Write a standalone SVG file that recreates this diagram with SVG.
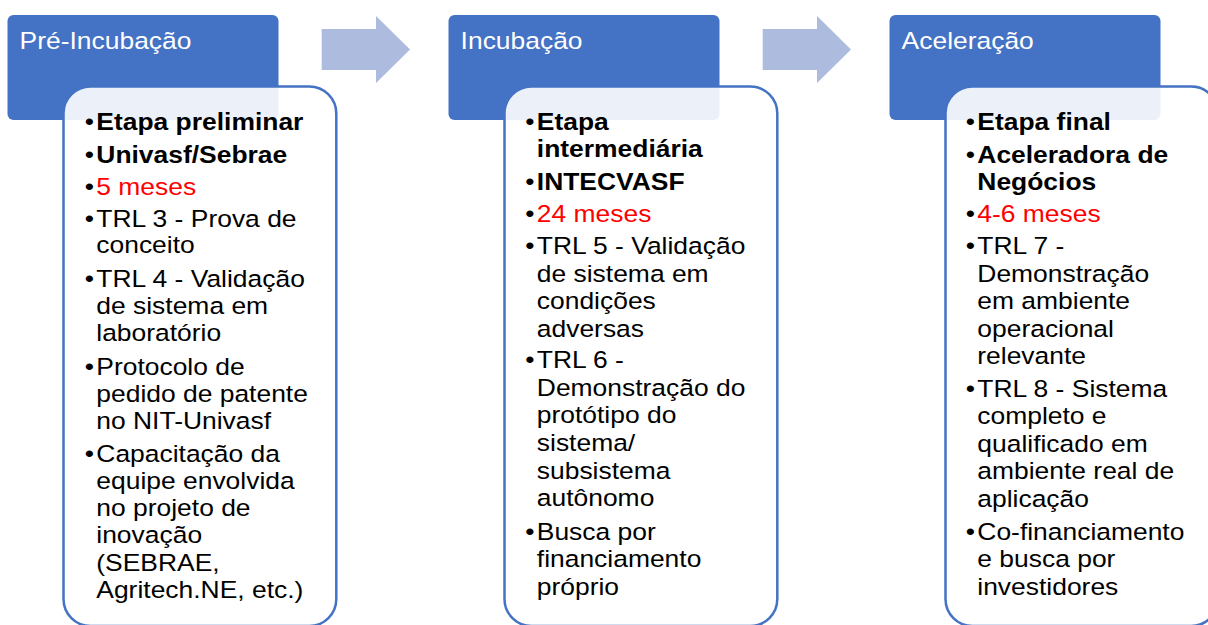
<svg xmlns="http://www.w3.org/2000/svg" width="1208" height="625" viewBox="0 0 1208 625">
<style>
  .hdr { fill: #4472C4; }
  .hdrtxt { font-family: "Liberation Sans", Arial, sans-serif; font-size: 23.5px; fill: #FFFFFF; }
  .body { fill: #FFFFFF; fill-opacity: 0.9; stroke: #4472C4; stroke-width: 2.5; }
  .t { font-family: "Liberation Sans", Arial, sans-serif; font-size: 23.5px; fill: #000000; }
  .b { font-weight: bold; }
  .r { fill: #FF0000; }
  .bu { font-family: "Liberation Sans", Arial, sans-serif; font-size: 23.5px; fill: #000000; }
  .arrow { fill: #ADBBDF; }
</style>
<rect width="1208" height="625" fill="#FFFFFF"/>

<g id="connectors">
  <path class="arrow" d="M321.7,29 H376 V16 L410,49.5 L376,83 V70 H321.7 Z"/>
  <path class="arrow" d="M762.7,29 H817 V16 L851,49.5 L817,83 V70 H762.7 Z"/>
</g>

<g id="node-pre-incubacao">
  <rect class="hdr" x="7.5" y="15" width="271" height="105" rx="6"/>
  <g transform="matrix(1.125 0 0 1 19.6 0)"><text class="hdrtxt" x="0" y="49.5">Pré-Incubação</text></g>
  <rect class="body" x="63.5" y="86.5" width="272.8" height="539.5" rx="27"/>
  <g transform="matrix(1.125 0 0 1 96.3 0)">
    <text class="bu" x="-10.3" y="130">•</text><text class="t b" x="0" y="130">Etapa preliminar</text>
    <text class="bu" x="-10.3" y="163">•</text><text class="t b" x="0" y="163">Univasf/Sebrae</text>
    <text class="bu r" x="-10.3" y="195.5">•</text><text class="t r" x="0" y="195.5">5 meses</text>
    <text class="bu" x="-10.3" y="227">•</text><text class="t" x="0" y="227">TRL 3 - Prova de</text>
    <text class="t" x="0" y="253.5">conceito</text>
    <text class="bu" x="-10.3" y="287.5">•</text><text class="t" x="0" y="287.5">TRL 4 - Validação</text>
    <text class="t" x="0" y="314.5">de sistema em</text>
    <text class="t" x="0" y="341.5">laboratório</text>
    <text class="bu" x="-10.3" y="375">•</text><text class="t" x="0" y="375">Protocolo de</text>
    <text class="t" x="0" y="402">pedido de patente</text>
    <text class="t" x="0" y="429">no NIT-Univasf</text>
    <text class="bu" x="-10.3" y="462.5">•</text><text class="t" x="0" y="462.5">Capacitação da</text>
    <text class="t" x="0" y="489.5">equipe envolvida</text>
    <text class="t" x="0" y="516.5">no projeto de</text>
    <text class="t" x="0" y="543.5">inovação</text>
    <text class="t" x="0" y="571">(SEBRAE,</text>
    <text class="t" x="0" y="598">Agritech.NE, etc.)</text>
  </g>
</g>

<g id="node-incubacao">
  <rect class="hdr" x="448.5" y="15" width="271" height="105" rx="6"/>
  <g transform="matrix(1.125 0 0 1 460.6 0)"><text class="hdrtxt" x="0" y="49.5">Incubação</text></g>
  <rect class="body" x="504.5" y="86.5" width="272.8" height="539.5" rx="27"/>
  <g transform="matrix(1.125 0 0 1 536.8 0)">
    <text class="bu" x="-10.3" y="130">•</text><text class="t b" x="0" y="130">Etapa</text>
    <text class="t b" x="0" y="157">intermediária</text>
    <text class="bu" x="-10.3" y="190">•</text><text class="t b" x="0" y="190">INTECVASF</text>
    <text class="bu r" x="-10.3" y="222">•</text><text class="t r" x="0" y="222">24 meses</text>
    <text class="bu" x="-10.3" y="254.5">•</text><text class="t" x="0" y="254.5">TRL 5 - Validação</text>
    <text class="t" x="0" y="282">de sistema em</text>
    <text class="t" x="0" y="309.5">condições</text>
    <text class="t" x="0" y="337">adversas</text>
    <text class="bu" x="-10.3" y="368.5">•</text><text class="t" x="0" y="368.5">TRL 6 -</text>
    <text class="t" x="0" y="396.5">Demonstração do</text>
    <text class="t" x="0" y="423.5">protótipo do</text>
    <text class="t" x="0" y="451.5">sistema/</text>
    <text class="t" x="0" y="479">subsistema</text>
    <text class="t" x="0" y="506.5">autônomo</text>
    <text class="bu" x="-10.3" y="540">•</text><text class="t" x="0" y="540">Busca por</text>
    <text class="t" x="0" y="567">financiamento</text>
    <text class="t" x="0" y="595">próprio</text>
  </g>
</g>

<g id="node-aceleracao">
  <rect class="hdr" x="889.5" y="15" width="271" height="105" rx="6"/>
  <g transform="matrix(1.125 0 0 1 901.6 0)"><text class="hdrtxt" x="0" y="49.5">Aceleração</text></g>
  <rect class="body" x="945.5" y="86.5" width="272.8" height="539.5" rx="27"/>
  <g transform="matrix(1.125 0 0 1 977.3 0)">
    <text class="bu" x="-10.3" y="130">•</text><text class="t b" x="0" y="130">Etapa final</text>
    <text class="bu" x="-10.3" y="163.3">•</text><text class="t b" x="0" y="163.3">Aceleradora de</text>
    <text class="t b" x="0" y="190">Negócios</text>
    <text class="bu r" x="-10.3" y="222">•</text><text class="t r" x="0" y="222">4-6 meses</text>
    <text class="bu" x="-10.3" y="254">•</text><text class="t" x="0" y="254">TRL 7 -</text>
    <text class="t" x="0" y="281.7">Demonstração</text>
    <text class="t" x="0" y="309.3">em ambiente</text>
    <text class="t" x="0" y="336.7">operacional</text>
    <text class="t" x="0" y="364.3">relevante</text>
    <text class="bu" x="-10.3" y="396.7">•</text><text class="t" x="0" y="396.7">TRL 8 - Sistema</text>
    <text class="t" x="0" y="424">completo e</text>
    <text class="t" x="0" y="451.7">qualificado em</text>
    <text class="t" x="0" y="479.3">ambiente real de</text>
    <text class="t" x="0" y="506.7">aplicação</text>
    <text class="bu" x="-10.3" y="540">•</text><text class="t" x="0" y="540">Co-financiamento</text>
    <text class="t" x="0" y="566.7">e busca por</text>
    <text class="t" x="0" y="595">investidores</text>
  </g>
</g>
</svg>
